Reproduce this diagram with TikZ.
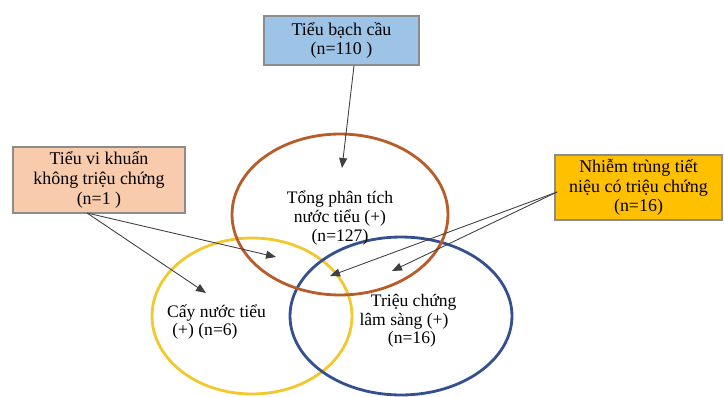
\documentclass[tikz,border=0pt]{standalone}
\usepackage{fontspec}
\setmainfont{Liberation Serif}
\usetikzlibrary{arrows.meta,positioning,shapes.geometric}
\definecolor{boxblue}{HTML}{9DC3E6}
\definecolor{boxpink}{HTML}{F8CBAD}
\definecolor{boxgold}{HTML}{FFC000}
\definecolor{ringorange}{HTML}{B85C2A}
\definecolor{ringgold}{HTML}{F2C82E}
\definecolor{ringblue}{HTML}{34508F}
\tikzset{
  box/.style={
    draw=black!45,
    thick,
    rectangle,
    align=center,
    inner sep=2pt,
    font=\fontsize{10.2}{11.2}\selectfont,
  },
  ring/.style={
    draw,
    line width=1.6pt,
    ellipse,
    inner sep=0pt,
  },
  lbl/.style={font=\fontsize{10}{10.6}\selectfont, inner sep=1pt},
  arr/.style={-{Triangle[length=2mm, width=1.6mm]}, black!75, line width=0.5pt},
}

\begin{document}
\begin{tikzpicture}[x=0.02cm, y=-0.02cm]
  \useasboundingbox (0,0) rectangle (724,396);

  % the three sets
  \node[ring, draw=ringgold, minimum width=4cm, minimum height=3.12cm] (cay) at (252,316) {};
  \node[ring, draw=ringblue, minimum width=4.44cm, minimum height=3.16cm] (ls) at (401,316) {};
  \node[ring, draw=ringorange, minimum width=4.32cm, minimum height=3.22cm] (ptnt) at (340,214.5) {};

  \node[lbl, align=center] (ptntlbl) at (340,218) {Tổng phân tích\\nước tiểu (+)\\(n=127)};
  \node[lbl, align=left, anchor=west] (caylbl) at (165,322) {Cấy nước tiểu\\\hspace*{0.3em}(+) (n=6)};
  \node[lbl, align=center] (lslbl) at (404,321) {\hspace*{1.1em}Triệu chứng\\lâm sàng (+)\\\hspace*{0.9em}(n=16)};

  % the three groups
  \node[box, fill=boxblue, minimum width=3.1cm, minimum height=0.98cm] (bc) at (341.5,40.5) {Tiểu bạch cầu\\(n=110 )};
  \node[box, fill=boxpink, minimum width=3.44cm, minimum height=1.32cm] (vk) at (99,180) {Tiểu vi khuẩn\\không triệu chứng\\(n=1 )};
  \node[box, fill=boxgold, minimum width=3.34cm, minimum height=1.3cm] (nt) at (638.5,187.5) {Nhiễm trùng tiết\\niệu có triệu chứng\\(n=16)};

  \coordinate (bcend) at (342,168);
  \coordinate (vkstart) at (87,213);
  \coordinate (vkend1) at (206,293);
  \coordinate (vkend2) at (276,257);
  \coordinate (ntstart) at (557,192);
  \coordinate (ntend1) at (330,276);
  \coordinate (ntend2) at (392,271);

  \draw[arr] (bc.south -| 354,0) -- (bcend);
  \draw[arr] (vkstart) -- (vkend1);
  \draw[arr] (vkstart) -- (vkend2);
  \draw[arr] (ntstart) -- (ntend1);
  \draw[arr] (ntstart) -- (ntend2);
\end{tikzpicture}
\end{document}
